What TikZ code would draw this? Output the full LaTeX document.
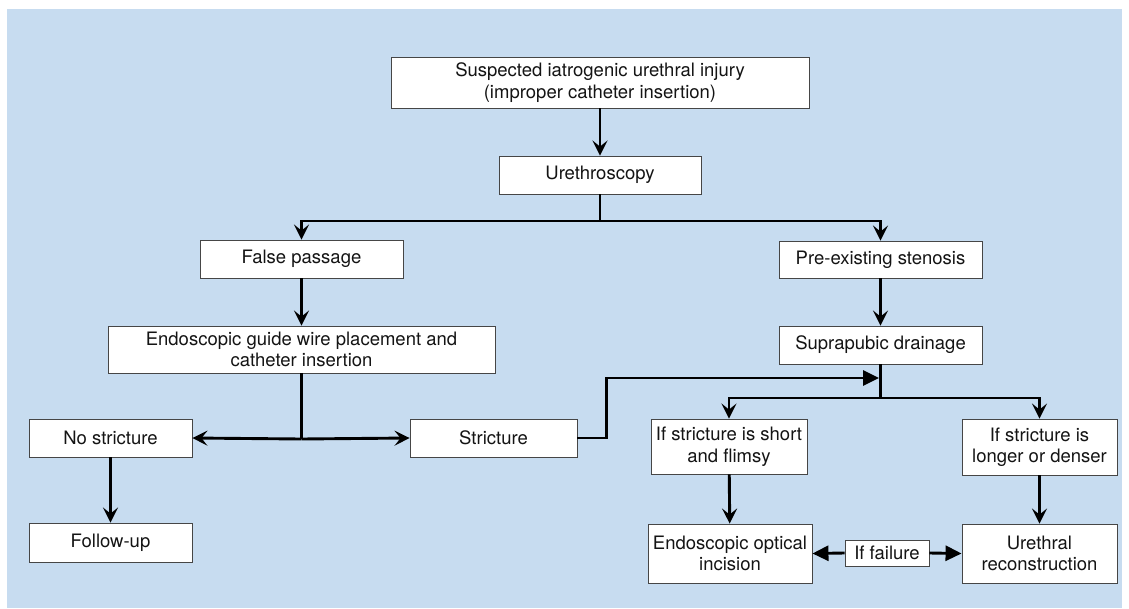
\documentclass[tikz,border=0pt]{standalone}
\usepackage{fontspec}
\setmainfont{TeX Gyre Heros}
\usetikzlibrary{arrows.meta}
\definecolor{bg}{RGB}{199,220,240}
\definecolor{boxline}{RGB}{70,70,70}
\definecolor{txt}{RGB}{20,20,20}
\begin{document}
\begin{tikzpicture}[x=1pt,y=-1pt,
  box/.style={draw=boxline, line width=0.9pt, fill=white, inner sep=0pt, align=center, text=txt,
    font=\fontsize{18.5}{21.5}\selectfont},
  conn/.style={line width=2.9pt, black},
  chev/.style={conn, -{Stealth[length=15pt,width=15pt,inset=6pt]}},
  tri/.style={conn, -{Triangle[length=16pt,width=15pt]}},
]
\useasboundingbox (0,0) rectangle (1129,608);
\fill[bg] (7,9) rectangle (1122,608);

\node[box, minimum width=418pt, minimum height=51pt] (top) at (600,82.5) {Suspected iatrogenic urethral injury\\(improper catheter insertion)};
\node[box, minimum width=202pt, minimum height=38pt] (uro) at (600,175) {Urethroscopy};
\node[box, minimum width=203pt, minimum height=38pt] (fp) at (301.5,259) {False passage};
\node[box, minimum width=203pt, minimum height=37pt] (pes) at (880.5,259.5) {Pre-existing stenosis};
\node[box, minimum width=387pt, minimum height=47pt] (ega) at (301.5,349.5) {Endoscopic guide wire placement and\\catheter insertion};
\node[box, minimum width=203pt, minimum height=38pt] (sd) at (880.5,345) {Suprapubic drainage};
\node[box, minimum width=163pt, minimum height=38pt] (ns) at (110.5,438) {No stricture};
\node[box, minimum width=167pt, minimum height=38pt] (str) at (493.5,438) {Stricture};
\node[box, minimum width=163pt, minimum height=39pt] (fu) at (110.5,542.5) {Follow-up};
\node[box, minimum width=156pt, minimum height=55pt] (short) at (729,446.5) {If stricture is short\\and flimsy};
\node[box, minimum width=155pt, minimum height=56pt] (longer) at (1039.5,447) {If stricture is\\longer or denser};
\node[box, minimum width=164pt, minimum height=59pt] (eoi) at (730,553.5) {Endoscopic optical\\incision};
\node[box, minimum width=155pt, minimum height=59pt] (ur) at (1039.5,553.5) {Urethral\\reconstruction};
\node[box, minimum width=84pt, minimum height=26pt] (iff) at (887,553) {If failure};

\coordinate (s1) at (600,221);
\coordinate (j1) at (301.5,439);
\coordinate (j2) at (880.5,378);
\coordinate (j3) at (880.5,398);

\draw[chev] (top) -- (uro);
\draw[conn] (uro.south) -- (s1);
\draw[chev] (s1) -| (fp.north);
\draw[chev] (s1) -| (pes.north);
\draw[chev] (fp) -- (ega);
\draw[chev] (pes) -- (sd);
\draw[conn] (ega.south) -- (j1);
\draw[chev] (j1) -- (ns.east);
\draw[chev] (j1) -- (str.west);
\draw[chev] (ns) -- (fu);
\draw[tri] (str.east) -- ++(29,0) |- ([xshift=-1.4pt]j2);
\draw[conn] (sd.south) -- (j3);
\draw[chev] (j3) -| (short.north);
\draw[chev] (j3) -| (longer.north);
\draw[chev] (short) -- (eoi);
\draw[chev] (longer) -- (ur);
\draw[tri] (iff.west) -- (eoi.east);
\draw[tri] (iff.east) -- (ur.west);
\end{tikzpicture}
\end{document}
